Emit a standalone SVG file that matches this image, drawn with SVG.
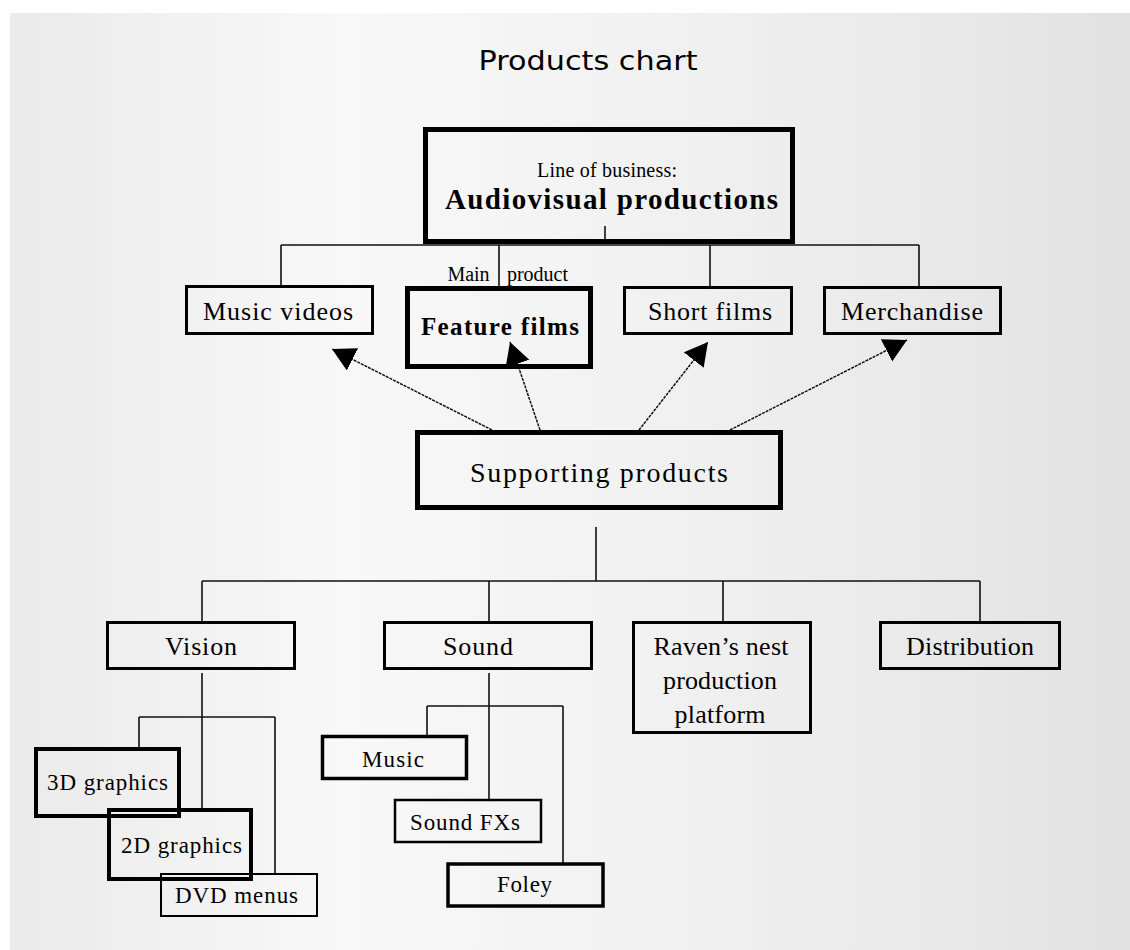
<svg xmlns="http://www.w3.org/2000/svg" width="1130" height="950" viewBox="0 0 1130 950">
  <defs>
    <linearGradient id="bg" x1="10" y1="0" x2="1130" y2="0" gradientUnits="userSpaceOnUse">
      <stop offset="0" stop-color="#eaeaea"/>
      <stop offset="0.3" stop-color="#f8f8f8"/>
      <stop offset="0.55" stop-color="#f2f2f2"/>
      <stop offset="0.85" stop-color="#e8e8e8"/>
      <stop offset="1" stop-color="#e1e1e1"/>
    </linearGradient>
    <marker id="head" markerUnits="userSpaceOnUse" markerWidth="24" markerHeight="26" refX="23" refY="12.5" orient="auto">
      <path d="M0,0 L23,12.5 L0,25 Z" fill="#000"/>
    </marker>
    <style>
      .box { fill: none; stroke: #000; }
      .lbl { font-family: "Liberation Serif", "Times New Roman", serif; font-size: 26px; fill: #000; text-anchor: middle; }
      .sm { font-size: 23px; }
      .xs { font-size: 20px; }
      .big { font-size: 29px; font-weight: bold; }
      .bold { font-size: 25px; font-weight: bold; }
      .mid { font-size: 28px; }
      .bus { fill: none; stroke: #111; stroke-width: 1.6; }
      .arrow { fill: none; stroke: #111; stroke-width: 1.5; stroke-dasharray: 3 1; marker-end: url(#head); }
    </style>
  </defs>

  <!-- page background -->
  <rect x="0" y="0" width="1130" height="950" fill="#fff"/>
  <rect x="10" y="13" width="1120" height="937" fill="url(#bg)"/>

  <text x="588" y="70" font-family="'DejaVu Sans', Verdana, sans-serif" font-size="27" text-anchor="middle" textLength="219" lengthAdjust="spacingAndGlyphs">Products chart</text>

  <!-- connectors -->
  <g id="connectors">
    <path class="bus" d="M605 226 V241"/>
    <path class="bus" d="M281 245 H919 M281 245 V286 M499 245 V288 M710 245 V286 M919 245 V286"/>
    <path class="bus" d="M596 527 V581 M202 581 H980 M202 581 V622 M489 581 V622 M723 581 V622 M980 581 V622"/>
    <path class="bus" d="M202 673 V809 M139 717 H275 M139 717 V748 M275 717 V874"/>
    <path class="bus" d="M489 673 V800 M427 706 H563 M427 706 V736 M563 706 V864"/>
    <line class="arrow" x1="492" y1="430" x2="332" y2="349"/>
    <line class="arrow" x1="540" y1="430" x2="510" y2="342"/>
    <line class="arrow" x1="639" y1="430" x2="708" y2="342"/>
    <line class="arrow" x1="730" y1="430" x2="907" y2="340"/>
  </g>

  <g id="line-of-business">
    <rect class="box" x="425.5" y="129.5" width="367" height="112" stroke-width="5"/>
    <text class="lbl xs" x="607" y="177" textLength="140">Line of business:</text>
    <text class="lbl big" x="611.5" y="209" textLength="333">Audiovisual productions</text>
  </g>

  <g id="music-videos">
    <rect class="box" x="186.5" y="286.5" width="186" height="47" stroke-width="3"/>
    <text class="lbl" x="278" y="320" textLength="150">Music videos</text>
  </g>

  <g id="feature-films">
    <text class="lbl xs" y="281"><tspan x="468.5">Main</tspan><tspan x="537.5">product</tspan></text>
    <rect class="box" x="407.5" y="288.5" width="183" height="78" stroke-width="5"/>
    <text class="lbl bold" x="500" y="335" textLength="158">Feature films</text>
  </g>

  <g id="short-films">
    <rect class="box" x="624.5" y="287.5" width="167" height="46" stroke-width="3"/>
    <text class="lbl" x="710" y="320" textLength="124">Short films</text>
  </g>

  <g id="merchandise">
    <rect class="box" x="824.5" y="287.5" width="176" height="46" stroke-width="3"/>
    <text class="lbl" x="912" y="320" textLength="142">Merchandise</text>
  </g>

  <g id="supporting-products">
    <rect class="box" x="417.5" y="432.5" width="363" height="75" stroke-width="5"/>
    <text class="lbl mid" x="599" y="482" textLength="258">Supporting products</text>
  </g>

  <g id="vision">
    <rect class="box" x="107.5" y="622.5" width="187" height="46" stroke-width="3"/>
    <text class="lbl" x="201" y="655" textLength="72">Vision</text>
  </g>

  <g id="sound">
    <rect class="box" x="384.5" y="622.5" width="207" height="46" stroke-width="3"/>
    <text class="lbl" x="478" y="655" textLength="70">Sound</text>
  </g>

  <g id="ravens-nest">
    <rect class="box" x="633.5" y="622.5" width="177" height="110" stroke-width="3"/>
    <text class="lbl" x="721" y="655" textLength="135">Raven’s nest</text>
    <text class="lbl" x="720" y="689" textLength="114">production</text>
    <text class="lbl" x="720" y="723" textLength="91">platform</text>
  </g>

  <g id="distribution">
    <rect class="box" x="880.5" y="622.5" width="179" height="46" stroke-width="3"/>
    <text class="lbl" x="970" y="655" textLength="128">Distribution</text>
  </g>

  <g id="graphics-3d">
    <rect class="box" x="36" y="749" width="143" height="67" stroke-width="4"/>
    <text class="lbl sm" x="107.5" y="790" textLength="121">3D graphics</text>
  </g>

  <g id="graphics-2d">
    <rect class="box" x="109" y="810" width="142" height="69" stroke-width="4"/>
    <text class="lbl sm" x="181.5" y="853" textLength="121">2D graphics</text>
  </g>

  <g id="dvd-menus">
    <rect class="box" x="161" y="874" width="156" height="42" stroke-width="2"/>
    <text class="lbl sm" x="236.5" y="903" textLength="123">DVD menus</text>
  </g>

  <g id="music">
    <rect class="box" x="322.5" y="736.5" width="144" height="42" stroke-width="3.5"/>
    <text class="lbl sm" x="393" y="767" textLength="62">Music</text>
  </g>

  <g id="sound-fxs">
    <rect class="box" x="395" y="800" width="146" height="42" stroke-width="2.5"/>
    <text class="lbl sm" x="465" y="830" textLength="110">Sound FXs</text>
  </g>

  <g id="foley">
    <rect class="box" x="448" y="864" width="155" height="42" stroke-width="3.5"/>
    <text class="lbl sm" x="524.5" y="892" textLength="55">Foley</text>
  </g>
</svg>
